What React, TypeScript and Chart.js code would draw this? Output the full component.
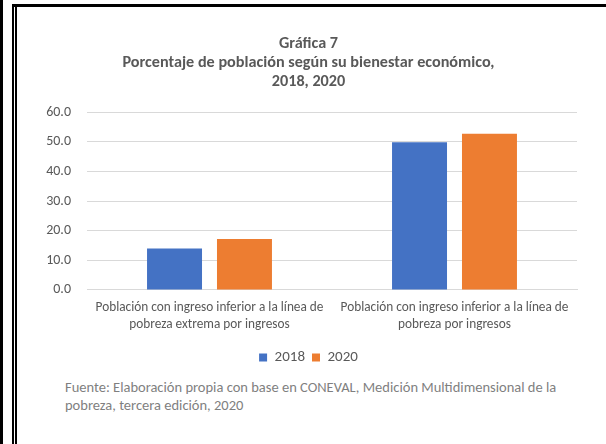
import React, { useEffect, useRef } from "react";
import { Chart, registerables } from "chart.js";

Chart.register(...registerables);

const categories: string[][] = [
  ["Población con ingreso inferior a la línea de", "pobreza extrema por ingresos"],
  ["Población con ingreso inferior a la línea de", "pobreza por ingresos"],
];
const series2018: number[] = [14.0, 49.9];
const series2020: number[] = [17.2, 52.8];
const seriesLabels: string[] = ["2018", "2020"];
const titleLines: string[] = [
  "Gráfica 7",
  "Porcentaje de población según su bienestar económico,",
  "2018, 2020",
];
const sourceLines: string[] = [
  "Fuente: Elaboración propia con base en CONEVAL, Medición Multidimensional de la",
  "pobreza, tercera edición, 2020",
];

const FONT = "Carlito, Lato, sans-serif";
const GRAY = "#595959";

export default function App() {
  const ref = useRef<HTMLCanvasElement | null>(null);

  useEffect(() => {
    if (!ref.current) return;
    const chart = new Chart(ref.current, {
      type: "bar",
      data: {
        labels: categories,
        datasets: [
          {
            label: seriesLabels[0],
            data: series2018,
            backgroundColor: "#4472C4",
            categoryPercentage: 0.571,
            barPercentage: 0.786,
          },
          {
            label: seriesLabels[1],
            data: series2020,
            backgroundColor: "#ED7D31",
            categoryPercentage: 0.571,
            barPercentage: 0.786,
          },
        ],
      },
      options: {
        animation: false,
        responsive: false,
        maintainAspectRatio: false,
        layout: { padding: { left: 40, right: 29, top: 0, bottom: 0 } },
        plugins: {
          title: {
            display: true,
            text: titleLines,
            color: GRAY,
            font: { family: FONT, size: 16.2, weight: "bold", lineHeight: 1.17 },
            padding: { top: 34.5, bottom: 21 },
          },
          legend: {
            display: true,
            position: "bottom",
            labels: {
              color: GRAY,
              boxWidth: 8,
              boxHeight: 8,
              padding: 7,
              font: { family: FONT, size: 15 },
            },
          },
          tooltip: { enabled: false },
        },
        scales: {
          x: {
            grid: { display: false, drawTicks: false },
            border: { display: true, color: "#d9d9d9" },
            ticks: {
              color: GRAY,
              padding: 9.5,
              maxRotation: 0,
              autoSkip: false,
              font: { family: FONT, size: 13.3, lineHeight: 1.28 },
            },
          },
          y: {
            min: 0,
            max: 60,
            ticks: {
              stepSize: 10,
              color: GRAY,
              padding: 16,
              font: { family: FONT, size: 14 },
              callback: (v: any) => Number(v).toFixed(1),
            },
            grid: { color: "#d9d9d9", drawTicks: false },
            border: { display: false },
            afterFit: (scale: any) => {
              scale.width = 47;
            },
          },
        },
      },
    });
    return () => chart.destroy();
  }, []);

  return (
    <div
      style={{
        position: "fixed",
        left: 0,
        top: 0,
        width: 606,
        height: 444,
        background: "#fff",
        overflow: "hidden",
      }}
    >
      <div style={{ position: "absolute", left: 0, top: 0, width: 3, height: 444, background: "#000" }} />
      <div style={{ position: "absolute", left: 12, top: 4, width: 2, height: 440, background: "#000" }} />
      <div style={{ position: "absolute", left: 15, top: 4, width: 2, height: 440, background: "#000" }} />
      <div style={{ position: "absolute", left: 12, top: 4, width: 594, height: 3, background: "#000" }} />
      <canvas
        ref={ref}
        width={606}
        height={375}
        style={{ position: "absolute", left: 0, top: 0, width: 606, height: 375 }}
      />
      <div
        style={{
          position: "absolute",
          left: 65,
          top: 378,
          width: 540,
          fontFamily: FONT,
          fontSize: 14.5,
          lineHeight: "18px",
          color: "#7f7f7f",
          whiteSpace: "nowrap",
        }}
      >
        {sourceLines.map((l, i) => (
          <div key={i}>{l}</div>
        ))}
      </div>
    </div>
  );
}
